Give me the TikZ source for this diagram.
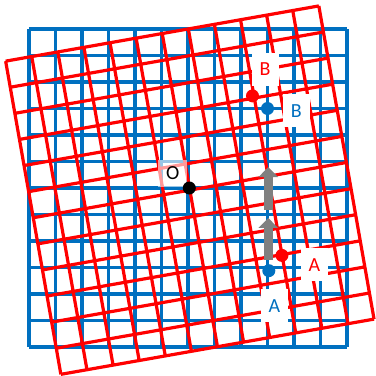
\documentclass[tikz,border=0pt]{standalone}
\usepackage{fontspec}
\setmainfont{Carlito}
\usetikzlibrary{arrows.meta}
\definecolor{gridblue}{RGB}{0,112,192}

\begin{document}
\begin{tikzpicture}[x=26.5pt,y=26.5pt,
    blueline/.style={gridblue,line width=3.5pt},
    redline/.style={red,line width=3.2pt},
    spot/.style={circle,fill,inner sep=0pt,minimum size=13pt},
    lbl/.style={fill=white,inner sep=0pt,minimum width=27pt,minimum height=33pt,
      font=\fontsize{20}{24}\selectfont},
    move/.style={gray,line width=9pt,-{Triangle[length=10pt,width=19pt]}}]
  \useasboundingbox (-7.094,-7.094) rectangle (7.094,7.094);
  \draw[blueline,step=26.5pt] (-6,-6) grid (6,6);
  \draw[redline,shift={(0.07,-0.08)},rotate=10,step=26.5pt] (-6,-6) grid (6,6);
  % shift of A
  \coordinate (a1) at (3.03,-2.72);
  \coordinate (a2) at (3.03,-1.13);
  \coordinate (a3) at (3.03,-0.83);
  \coordinate (a4) at (3.03,0.79);
  \draw[move] (a1) -- (a2);
  \draw[move] (a3) -- (a4);
  % labels
  \node[lbl,fill opacity=0.6,text opacity=1,minimum width=29pt,minimum height=27pt] (lO) at (-0.58,0.55) {O};
  \node[lbl,text=red] (lBr) at (2.91,4.49) {B};
  \node[lbl,text=gridblue] (lBb) at (4.09,2.91) {B};
  \node[lbl,text=gridblue] (lAb) at (3.26,-4.45) {A};
  \node[lbl,text=red] (lAr) at (4.77,-2.89) {A};
  % points
  \node[spot] (O) at (0.05,0) {};
  \node[spot,gridblue] (Ab) at (3.05,-3.12) {};
  \node[spot,gridblue] (Bb) at (3,3) {};
  \begin{scope}[rotate=10]
    \node[spot,red] (Ar) at (3.05,-3.12) {};
    \node[spot,red] (Br) at (3,3) {};
  \end{scope}
\end{tikzpicture}
\end{document}
